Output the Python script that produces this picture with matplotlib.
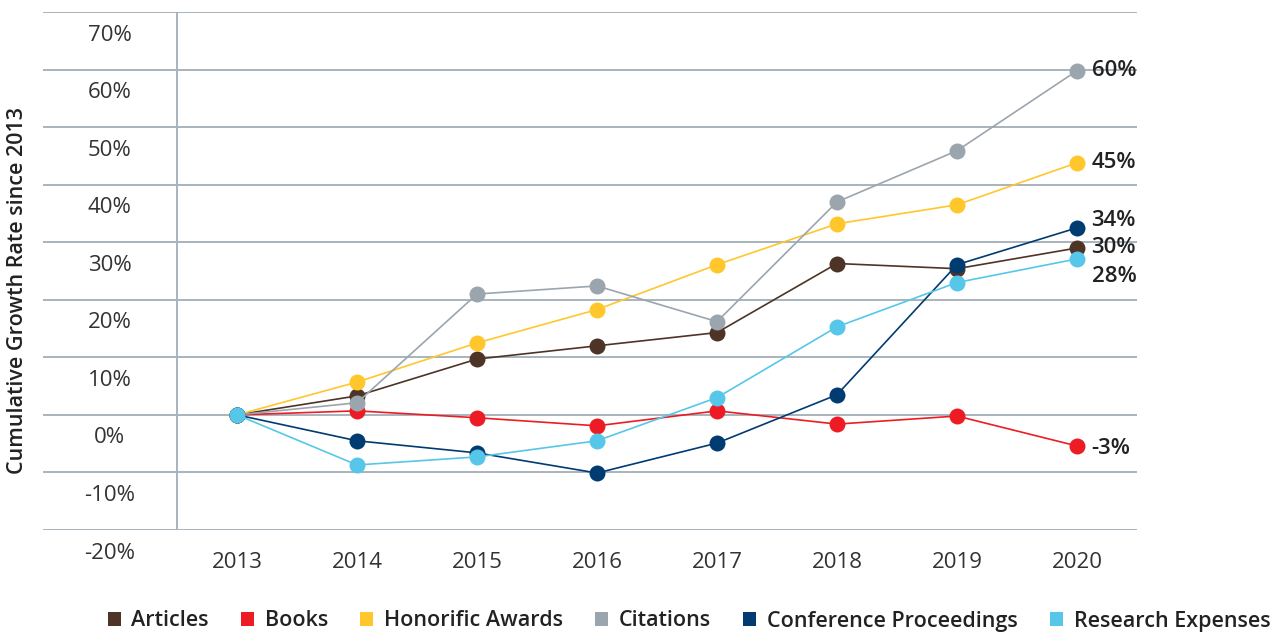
import matplotlib
matplotlib.use("Agg")
import matplotlib.pyplot as plt
from matplotlib.patches import Patch

years = ["2013", "2014", "2015", "2016", "2017", "2018", "2019", "2020"]
articles = [0, 3.3, 9.7, 12.0, 14.3, 26.3, 25.4, 29.0]
books = [0, 0.7, -0.5, -1.9, 0.7, -1.6, -0.2, -5.4]
honorific = [0, 5.7, 12.5, 18.3, 26.1, 33.2, 36.5, 43.8]
citations = [0, 2.1, 21.0, 22.4, 16.2, 37.0, 45.9, 59.8]
conference = [0, -4.5, -6.6, -10.1, -4.9, 3.5, 26.1, 32.5]
research = [0, -8.7, -7.3, -4.5, 3.0, 15.3, 23.0, 27.1]
series_names = ["Articles", "Books", "Honorific Awards", "Citations",
                "Conference Proceedings", "Research Expenses"]
end_labels = ["30%", "-3%", "45%", "60%", "34%", "28%"]
y_ticks = [-20, -10, 0, 10, 20, 30, 40, 50, 60, 70]
y_tick_labels = ["-20%", "-10%", "0%", "10%", "20%", "30%", "40%", "50%", "60%", "70%"]

colors = ["#4D3426", "#ED1C24", "#FFC72C", "#9BA5AE", "#003B71", "#56C7E9"]
label_offsets = [0, -2, 0, 0, 5, -13]  # pixel offsets for end labels

plt.rcParams['font.family'] = ['Open Sans', 'DejaVu Sans']

fig = plt.figure(figsize=(12.8, 6.35), dpi=100)
ax = fig.add_axes([43/1280, 1-530/635, (1137-43)/1280, (530-12)/635])

x = list(range(len(years)))
data = [articles, books, honorific, citations, conference, research]
for i in range(6):
    ax.plot(x, data[i], color=colors[i], lw=1.2, marker='o', markersize=11.5,
            markeredgewidth=0, zorder=3)

for yt in y_ticks:
    ax.axhline(yt, color="#A9B3BD", lw=1.4, zorder=1)

ax.set_xlim(-1.617, 7.5)
ax.set_ylim(-20, 70)
ax.axvline(-0.5, color="#A9B3BD", lw=1.4, zorder=1)

for s in ax.spines.values():
    s.set_visible(False)
ax.set_yticks([])
ax.set_xticks(x)
ax.set_xticklabels(years, fontsize=16, color="#333333")
ax.tick_params(axis='x', length=0, pad=16)

for yt, lab in zip(y_ticks, y_tick_labels):
    ax.text(-1.06, yt - 4, lab, ha='center', va='center', fontsize=16, color="#333333")

for i in range(6):
    ax.annotate(end_labels[i], (x[-1], data[i][-1]), xytext=(10.5, label_offsets[i]),
                textcoords='offset points', ha='left', va='center', fontsize=16,
                fontweight='semibold', color="#222222", annotation_clip=False)

fig.text(18/1280, 1-290/635, "Cumulative Growth Rate since 2013", rotation=90,
         ha='center', va='center', fontsize=15.5, fontweight='semibold', color="#222222")

handles = [Patch(facecolor=c, edgecolor='none') for c in colors]
fig.legend(handles, series_names, loc='center', bbox_to_anchor=(689/1280, 1-621/635),
           ncol=6, frameon=False, handlelength=0.6, handleheight=0.6,
           handletextpad=0.5, columnspacing=1.5, labelcolor="#222222",
           prop={'weight': 'semibold', 'size': 15.5})

fig.savefig("out.png", dpi=100)
